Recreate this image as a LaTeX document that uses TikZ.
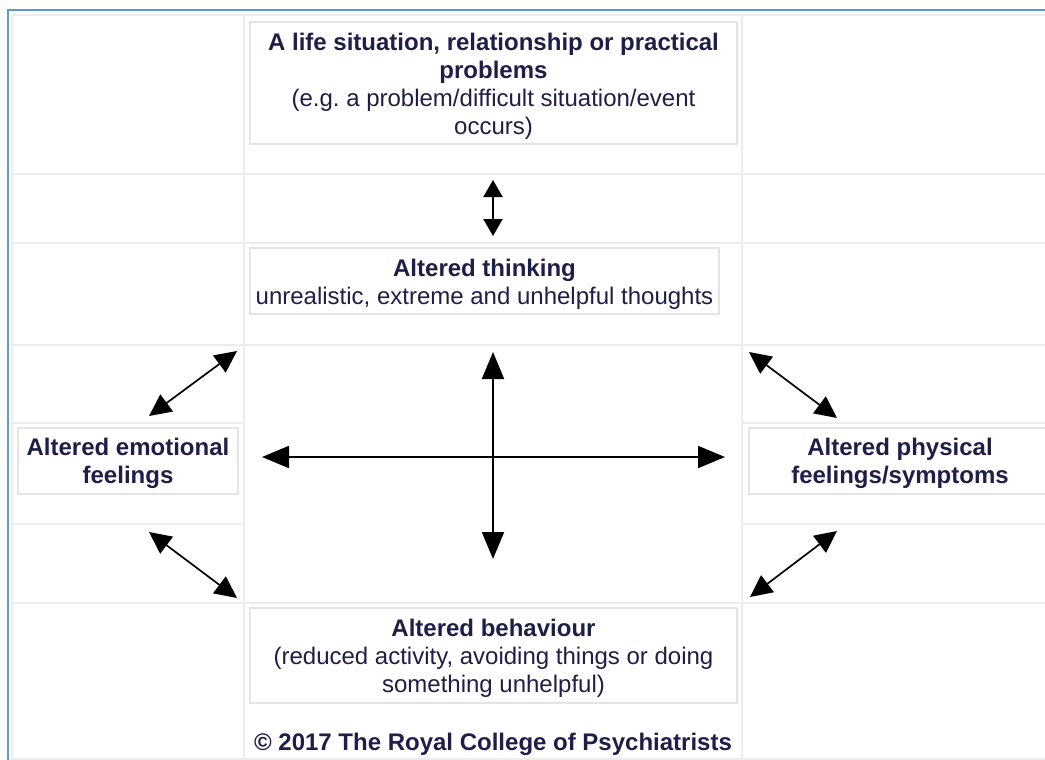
\documentclass[tikz,border=0pt]{standalone}
\usepackage{fontspec}
\setmainfont{Liberation Sans}
\usetikzlibrary{arrows.meta}
\definecolor{gridc}{RGB}{236,236,236}
\definecolor{boxc}{RGB}{228,228,228}
\definecolor{framec}{RGB}{91,155,213}
\definecolor{txtc}{RGB}{30,30,72}
\frenchspacing
\begin{document}
\begin{tikzpicture}[x=1pt,y=-1pt,
  gridline/.style={draw=gridc,line width=2pt},
  cellbox/.style={draw=boxc,line width=2pt,inner sep=0pt,fill=white},
  label/.style={align=center,text=txtc,inner sep=0pt,font=\fontsize{24}{28}\selectfont},
  bigarrow/.style={{Triangle[length=27pt,width=22pt]}-{Triangle[length=27pt,width=22pt]},line width=2pt,black},
  smallarrow/.style={{Triangle[length=17pt,width=19pt]}-{Triangle[length=17pt,width=19pt]},line width=2pt,black},
  diagarrow/.style={{Triangle[length=22pt,width=21pt]}-{Triangle[length=22pt,width=21pt]},line width=1.7pt,black}
]
\useasboundingbox (0,0) rectangle (1045,760);
\clip (0,0) rectangle (1045,760);
\fill[white] (0,0) rectangle (1045,760);
% outer blue frame
\draw[framec,line width=2.2pt] (8,760) -- (8,10) -- (1045,10);
% grid
\draw[gridline] (12,15) -- (1045,15);
\draw[gridline] (12,174) -- (1045,174);
\draw[gridline] (12,243) -- (1045,243);
\draw[gridline] (12,345) -- (1045,345);
\draw[gridline] (12,603) -- (1045,603);
\draw[gridline] (12,759) -- (1045,759);
\draw[gridline] (12,423) -- (244,423);
\draw[gridline] (742,423) -- (1045,423);
\draw[gridline] (12,524) -- (244,524);
\draw[gridline] (742,524) -- (1045,524);
\draw[gridline] (12,15) -- (12,760);
\draw[gridline] (244,15) -- (244,760);
\draw[gridline] (742,15) -- (742,760);
% boxes
\node[cellbox,minimum width=487pt,minimum height=122pt] (life) at (493.5,83) {};
\node[label] (lifet) at (493.5,86) {\textbf{A life situation, relationship or practical}\\\textbf{problems}\\(e.g. a problem/difficult situation/event\\occurs)};
\node[cellbox,minimum width=469pt,minimum height=66pt] (think) at (484.5,281) {};
\node[label] (thinkt) at (484.5,284) {\textbf{Altered thinking}\\unrealistic, extreme and unhelpful thoughts};
\node[cellbox,minimum width=220pt,minimum height=66pt] (emo) at (128,461) {};
\node[label] (emot) at (128,463) {\textbf{Altered emotional}\\\textbf{feelings}};
\node[cellbox,minimum width=302pt,minimum height=66pt] (phys) at (900,461) {};
\node[label] (physt) at (900,463) {\textbf{Altered physical}\\\textbf{feelings/symptoms}};
\node[cellbox,minimum width=487pt,minimum height=95pt] (beh) at (493.5,655.5) {};
\node[label] (beht) at (493.5,658) {\textbf{Altered behaviour}\\(reduced activity, avoiding things or doing\\something unhelpful)};
\node[label] (copy) at (493,744) {\textbf{© 2017 The Royal College of Psychiatrists}};
% arrow end points
\coordinate (a1) at (493,180);
\coordinate (a2) at (493,236);
\coordinate (v1) at (493,352);
\coordinate (v2) at (493,559);
\coordinate (h1) at (262,457);
\coordinate (h2) at (725,457);
\coordinate (tl1) at (237,351);
\coordinate (tl2) at (149,416);
\coordinate (bl1) at (149,532);
\coordinate (bl2) at (237,598);
\coordinate (tr1) at (749,352);
\coordinate (tr2) at (837,418);
\coordinate (br1) at (837,531);
\coordinate (br2) at (750,597);
% arrows
\draw[smallarrow] (a1) -- (a2);
\draw[bigarrow] (v1) -- (v2);
\draw[bigarrow] (h1) -- (h2);
\draw[diagarrow] (tl1) -- (tl2);
\draw[diagarrow] (bl1) -- (bl2);
\draw[diagarrow] (tr1) -- (tr2);
\draw[diagarrow] (br1) -- (br2);
\end{tikzpicture}
\end{document}
